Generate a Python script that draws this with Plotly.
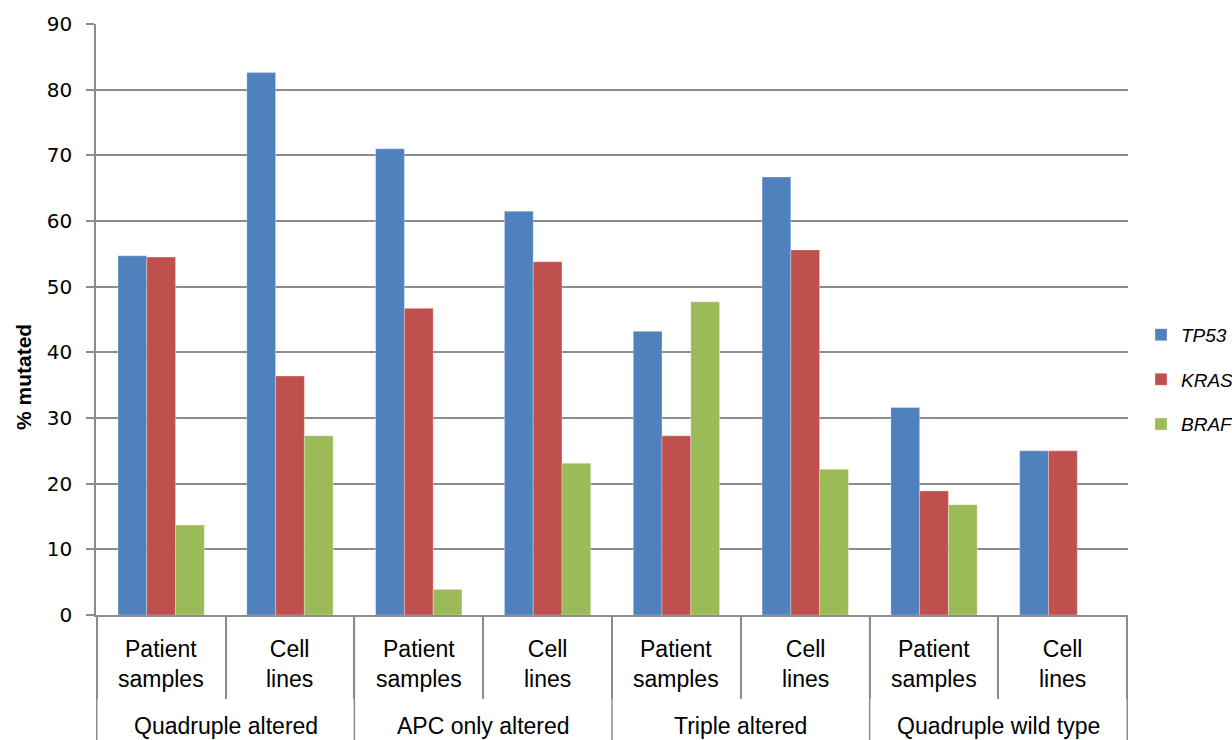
import plotly.graph_objects as go

groups = ["Quadruple altered", "APC only altered", "Triple altered", "Quadruple wild type"]
subgroups = ["Patient<br>samples", "Cell<br>lines"]
series_names = ["TP53", "KRAS", "BRAF"]
tp53 = [54.7, 82.6, 71.0, 61.5, 43.2, 66.7, 31.6, 25.0]
kras = [54.5, 36.4, 46.7, 53.8, 27.3, 55.6, 18.9, 25.0]
braf = [13.7, 27.3, 3.9, 23.1, 47.7, 22.2, 16.8, 0.0]
colors = ["#4F81BD", "#C0504D", "#9BBB59"]
y_title = "% mutated"

# one category per (group, subgroup) pair
categories = [f"{g} | {s}" for g in groups for s in subgroups]

AXIS_GREY = "#8C8C8C"
LABEL_FONT = dict(family="Liberation Sans, Arial, sans-serif", size=23, color="#000")

fig = go.Figure()
for i, (name, vals) in enumerate(zip(series_names, [tp53, kras, braf])):
    fig.add_trace(go.Bar(
        x=categories, y=vals, name=f"<i>{name}</i>",
        marker=dict(color=colors[i], line=dict(color="rgba(255,255,255,0.5)", width=0.6)),
        legendgroup=name,
    ))

# subcategory labels (below each category)
for idx, cat in enumerate(categories):
    sub = cat.split(" | ")[1]
    fig.add_annotation(x=idx, y=0, xref="x", yref="paper", text=sub,
                       showarrow=False, yanchor="middle", yshift=-49,
                       font=LABEL_FONT, align="center")

# group labels and dividers
n_sub = len(subgroups)
for gi, g in enumerate(groups):
    center = gi * n_sub + (n_sub - 1) / 2
    fig.add_annotation(x=center, y=0, xref="x", yref="paper", text=g,
                       showarrow=False, yanchor="middle", yshift=-111,
                       font=LABEL_FONT)
for gi in range(len(groups) + 1):
    b = gi * n_sub - 0.5
    fig.add_shape(type="line", xref="x", yref="paper", x0=b, x1=b, y0=0, y1=-0.3,
                  line=dict(color=AXIS_GREY, width=1.5))

# y-axis title
fig.add_annotation(x=0, y=0.4027, xref="paper", yref="paper", xshift=-73,
                   text=f"<b>{y_title}</b>", textangle=-90, showarrow=False,
                   xanchor="center", yanchor="middle",
                   font=dict(family="Liberation Sans, Arial, sans-serif", size=21, color="#000"))

fig.update_layout(
    width=1232, height=740,
    margin=dict(l=96, r=104, t=24, b=125, autoexpand=False),
    paper_bgcolor="white", plot_bgcolor="white",
    barmode="group", bargap=0.33, bargroupgap=0,
    font=dict(family="Liberation Sans, Arial, sans-serif", size=20, color="#000"),
    legend=dict(x=1.0126, y=0.398, yanchor="middle", xanchor="left",
                font=dict(size=19), tracegroupgap=17, itemwidth=30),
    showlegend=True,
)
fig.update_xaxes(
    type="category", showgrid=False, automargin=False,
    showline=True, linecolor=AXIS_GREY, linewidth=1.5,
    ticks="outside", tickson="boundaries", ticklen=82, tickcolor=AXIS_GREY, tickwidth=1.5,
    showticklabels=False,
)
fig.update_yaxes(
    range=[0, 90], dtick=10, showgrid=True, gridcolor=AXIS_GREY, gridwidth=1.5,
    showline=True, linecolor=AXIS_GREY, linewidth=1.5, automargin=False,
    ticks="outside", ticklen=8, tickcolor=AXIS_GREY, tickwidth=1.5,
    tickfont=dict(size=20, family="DejaVu Sans, sans-serif"), ticklabelstandoff=10,
    zeroline=False,
)

fig.write_html("out.html", config={"displayModeBar": False},
               post_script="document.body.style.margin='0';")
